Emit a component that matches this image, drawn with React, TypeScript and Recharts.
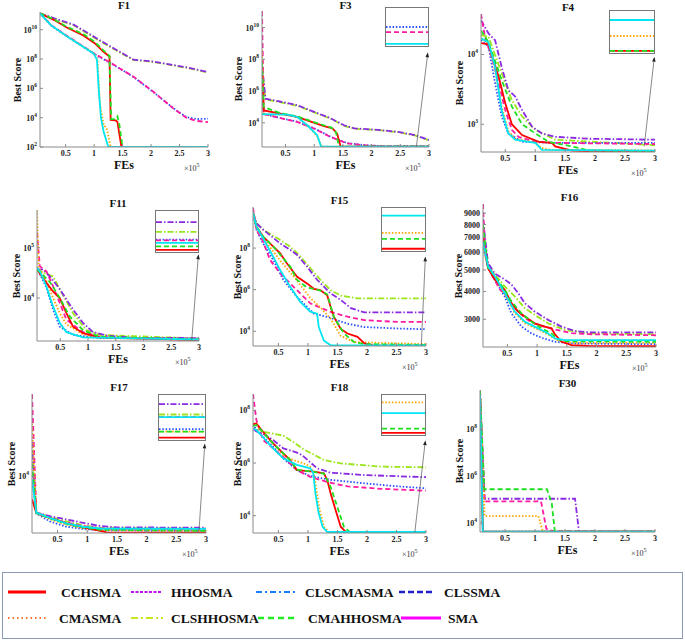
import React from 'react';
import { LineChart, Line, XAxis, YAxis, ReferenceLine } from 'recharts';

type Pt = [number, number];

const SERIF = '"Liberation Serif", "Times New Roman", serif';
const AXIS = '#8a8a8a';

const SERIES = ['CCHSMA', 'CMASMA', 'HHOSMA', 'CLSHHOSMA', 'CLSCMASMA', 'CLSSMA', 'CMAHHOSMA', 'SMA'];
const DRAW_ORDER = ['CLSHHOSMA', 'HHOSMA', 'CLSSMA', 'SMA', 'CMASMA', 'CCHSMA', 'CMAHHOSMA', 'CLSCMASMA'];
const X_TICKS = [0.5, 1, 1.5, 2, 2.5, 3];

// ---------- F1 ----------
const F1_Y_TICKS = [1e2, 1e4, 1e6, 1e8, 1e10];
const F1_DATA: Record<string, Pt[]> = {
  HHOSMA: [[0.05, 1.3e11], [0.3, 6e10], [0.64, 2.2e10], [0.9, 5.6e9], [1.11, 1.8e9], [1.4, 4e8], [1.69, 9e7], [2.0, 7e7], [2.27, 4.7e7], [2.6, 2.8e7], [3, 1.3e7]],
  CLSHHOSMA: [[0.05, 1.2e11], [0.3, 5.5e10], [0.64, 2e10], [0.9, 5e9], [1.11, 1.6e9], [1.4, 3.6e8], [1.69, 8.5e7], [2.0, 6.6e7], [2.27, 4.4e7], [2.6, 2.6e7], [3, 1.2e7]],
  CCHSMA: [[0.05, 1.3e11], [0.3, 4.5e10], [0.52, 1.4e10], [0.81, 4e9], [1.01, 1.2e9], [1.16, 3.2e8], [1.27, 1.5e8], [1.29, 7e3], [1.38, 6.5e3], [1.41, 5e3], [1.48, 1e2], [3, 1e2]],
  CMAHHOSMA: [[0.05, 1.3e11], [0.3, 5e10], [0.52, 1.6e10], [0.81, 5e9], [1.01, 1.5e9], [1.16, 4e8], [1.27, 1.6e8], [1.3, 8e3], [1.38, 8e3], [1.41, 1.2e4], [1.44, 4e3], [1.5, 1e2], [3, 1e2]],
  SMA: [[0.05, 1.3e11], [0.25, 2e10], [0.52, 3.9e9], [0.99, 2.5e8], [1.28, 5.8e7], [1.69, 6.3e6], [2.04, 5.9e5], [2.39, 4.3e4], [2.62, 1e4], [2.8, 6e3], [3, 5e3]],
  CLSSMA: [[0.05, 1.3e11], [0.25, 1.8e10], [0.52, 3.6e9], [0.99, 2.3e8], [1.28, 5.5e7], [1.69, 6e6], [2.04, 5.5e5], [2.39, 4.5e4], [2.62, 1.1e4], [2.8, 8e3], [3, 8.5e3]],
  CLSCMASMA: [[0.05, 1.3e11], [0.25, 1.9e10], [0.52, 3.5e9], [0.99, 2.4e8], [1.05, 9e7], [1.08, 1e6], [1.12, 1e4], [1.17, 1e3], [1.25, 1e2], [3, 1e2]],
  CMASMA: [[0.05, 1.3e11], [0.25, 1.9e10], [0.52, 3.6e9], [0.99, 2.6e8], [1.06, 9e7], [1.1, 1e5], [1.17, 3e3], [1.22, 2e3], [1.29, 1e2], [3, 1e2]],
};

// ---------- F3 ----------
const F3_Y_TICKS = [1e4, 1e6, 1e8, 1e10];
const F3_DATA: Record<string, Pt[]> = {
  HHOSMA: [[0.09, 5e7], [0.15, 3.3e5], [0.4, 2.2e5], [0.7, 1.3e5], [1.0, 4.9e4], [1.29, 1.9e4], [1.52, 7e3], [1.7, 4.5e3], [2.1, 3.6e3], [2.46, 2.7e3], [2.75, 1.7e3], [3, 830]],
  CLSHHOSMA: [[0.09, 3e7], [0.15, 3e5], [0.4, 2e5], [0.7, 1.2e5], [1.0, 4.5e4], [1.29, 1.8e4], [1.52, 6.5e3], [1.7, 4.3e3], [2.1, 3.5e3], [2.46, 2.6e3], [2.75, 1.6e3], [3, 800]],
  CCHSMA: [[0.09, 1e7], [0.12, 6e4], [0.41, 3.8e4], [0.7, 2.4e4], [0.94, 1.2e4], [1.17, 6.2e3], [1.32, 4.4e3], [1.4, 2.1e3], [1.46, 310], [3, 310]],
  CMAHHOSMA: [[0.09, 6e7], [0.12, 1e5], [0.41, 4e4], [0.7, 2.6e4], [0.94, 1.3e4], [1.17, 7e3], [1.3, 5e3], [1.38, 2.5e3], [1.43, 310], [3, 310]],
  CLSCMASMA: [[0.09, 3.5e4], [0.53, 3.3e4], [0.7, 2.4e4], [0.88, 7e3], [1.05, 1.7e3], [1.12, 310], [3, 310]],
  CMASMA: [[0.09, 4e8], [0.12, 3.4e4], [0.53, 3.2e4], [0.7, 2.3e4], [0.88, 6.5e3], [1.05, 1.5e3], [1.13, 310], [3, 310]],
  CLSSMA: [[0.09, 1e6], [0.12, 3.5e4], [0.41, 2e4], [0.7, 1.2e4], [1.0, 4.5e3], [1.29, 1.3e3], [1.58, 520], [1.87, 400], [2.2, 340], [3, 330]],
  SMA: [[0.09, 1.1e11], [0.12, 3.5e4], [0.41, 2e4], [0.7, 1.15e4], [1.0, 4.3e3], [1.29, 1.25e3], [1.58, 500], [1.87, 390], [2.2, 335], [3, 325]],
};
const F3_INSET: [string, number][] = [['CLSSMA', 0.5], ['SMA', 0.36], ['CLSCMASMA', 0.03]];

// ---------- F4 ----------
const F4_Y_TICKS = [1e3, 1e4];
const F4_DATA: Record<string, Pt[]> = {
  SMA: [[0.095, 3.8e4], [0.16, 1.8e4], [0.27, 9.3e3], [0.39, 3.9e3], [0.5, 1.6e3], [0.61, 830], [0.72, 660], [1.0, 560], [1.335, 540], [3, 520]],
  HHOSMA: [[0.095, 3.1e4], [0.22, 2e4], [0.33, 1.6e4], [0.44, 6.6e3], [0.55, 3.1e3], [0.665, 2.5e3], [0.78, 1.6e3], [0.945, 930], [1.11, 740], [1.335, 660], [1.9, 620], [3, 600]],
  CLSHHOSMA: [[0.095, 1.9e4], [0.22, 1.8e4], [0.44, 5.4e3], [0.61, 2.2e3], [0.78, 1.3e3], [1.0, 830], [1.335, 600], [3, 500]],
  CMAHHOSMA: [[0.095, 2.2e4], [0.22, 1.5e4], [0.44, 4.3e3], [0.61, 1.8e3], [0.78, 1e3], [1.0, 740], [1.22, 560], [1.615, 480], [1.9, 420], [3, 410]],
  CCHSMA: [[0.095, 1.45e4], [0.22, 1.4e4], [0.39, 4.8e3], [0.5, 2e3], [0.61, 1e3], [0.78, 700], [1.06, 560], [1.28, 540], [1.335, 480], [1.615, 420], [1.9, 410], [3, 410]],
  CLSCMASMA: [[0.095, 1.7e4], [0.22, 1.5e4], [0.33, 6.6e3], [0.44, 1.6e3], [0.55, 740], [0.665, 600], [1.0, 540], [1.06, 480], [1.11, 430], [3, 418]],
  CLSSMA: [[0.095, 1.6e4], [0.22, 1.3e4], [0.33, 3.9e3], [0.44, 1.3e3], [0.55, 740], [0.78, 560], [1.335, 540], [3, 540]],
  CMASMA: [[0.095, 1.7e4], [0.22, 1.45e4], [0.33, 6e3], [0.44, 1.8e3], [0.55, 800], [0.665, 620], [1.0, 550], [1.1, 460], [1.25, 430], [3, 422]],
};
const F4_INSET: [string, number][] = [['CLSCMASMA', 0.8], ['CMASMA', 0.4], ['CCHSMA', 0.03], ['CMAHHOSMA', 0.03]];

// ---------- F11 ----------
const F11_Y_TICKS = [1e4, 1e5];
const F11_DATA: Record<string, Pt[]> = {
  CMASMA: [[0.08, 5.6e5], [0.11, 4e4], [0.25, 2.2e4], [0.37, 1e4], [0.49, 5e3], [0.61, 3e3], [0.91, 1.9e3], [1.21, 1.6e3], [3, 1.5e3]],
  SMA: [[0.08, 2e5], [0.13, 4.3e4], [0.25, 3.4e4], [0.37, 1.7e4], [0.49, 8e3], [0.61, 3.7e3], [0.91, 2.1e3], [1.21, 1.7e3], [1.51, 1.6e3], [3, 1.55e3]],
  HHOSMA: [[0.08, 3.7e4], [0.19, 3.7e4], [0.31, 2.7e4], [0.49, 1.5e4], [0.73, 5.9e3], [0.91, 3.2e3], [1.09, 2.1e3], [1.33, 1.8e3], [1.815, 1.62e3], [3, 1.6e3]],
  CLSHHOSMA: [[0.08, 3.7e4], [0.25, 3e4], [0.37, 2.7e4], [0.49, 1.5e4], [0.73, 5e3], [0.97, 2.3e3], [1.21, 1.85e3], [3, 1.57e3]],
  CMAHHOSMA: [[0.08, 3.7e4], [0.31, 2.1e4], [0.49, 1e4], [0.67, 4.3e3], [0.91, 2.3e3], [1.21, 1.7e3], [3, 1.5e3]],
  CCHSMA: [[0.08, 3.7e4], [0.25, 2e4], [0.37, 1.35e4], [0.49, 1e4], [0.61, 5e3], [0.73, 2.7e3], [0.91, 2e3], [1.21, 1.65e3], [3, 1.45e3]],
  CLSCMASMA: [[0.08, 4e4], [0.13, 3.4e4], [0.25, 1.7e4], [0.37, 6.8e3], [0.49, 3.2e3], [0.61, 2.1e3], [0.91, 1.65e3], [3, 1.5e3]],
  CLSSMA: [[0.08, 4e4], [0.25, 1.6e4], [0.37, 5.9e3], [0.49, 2.7e3], [0.73, 1.85e3], [1.21, 1.6e3], [3, 1.55e3]],
};
const F11_INSET: [string, number][] = [['HHOSMA', 0.74], ['CLSHHOSMA', 0.49], ['CLSSMA', 0.29], ['SMA', 0.27], ['CLSCMASMA', 0.21], ['CMAHHOSMA', 0.12], ['CCHSMA', 0.03]];

// ---------- F15 ----------
const F15_Y_TICKS = [1e4, 1e6, 1e8];
const F15_DATA: Record<string, Pt[]> = {
  SMA: [[0.07, 8.7e9], [0.127, 7.8e8], [0.24, 2.1e8], [0.356, 2.8e7], [0.527, 6.2e6], [0.7, 2e6], [0.87, 6.6e5], [1.04, 2.2e5], [1.384, 8.5e4], [1.67, 5e4], [1.956, 3.4e4], [2.527, 2.8e4], [3, 2.8e4]],
  HHOSMA: [[0.07, 5e9], [0.127, 1.6e9], [0.24, 7.8e8], [0.527, 1.7e8], [0.7, 8.3e7], [0.813, 4.8e7], [0.984, 1.3e7], [1.156, 3e6], [1.384, 6.6e5], [1.556, 3.2e5], [1.727, 1.3e5], [1.956, 8e4], [3, 8e4]],
  CLSHHOSMA: [[0.07, 5e9], [0.127, 1.6e9], [0.24, 7.8e8], [0.527, 2.5e8], [0.7, 1.2e8], [0.87, 4e7], [1.04, 1.1e7], [1.21, 3e6], [1.384, 9.5e5], [1.556, 5.2e5], [1.84, 3.8e5], [3, 3.8e5]],
  CCHSMA: [[0.07, 5e9], [0.127, 1.1e9], [0.24, 3.6e8], [0.41, 1.2e8], [0.527, 5.8e7], [0.64, 1.9e7], [0.813, 4.3e6], [0.984, 2e6], [1.1, 1.1e6], [1.21, 9.5e5], [1.327, 5.3e5], [1.384, 1.5e5], [1.44, 4.9e4], [1.556, 1.3e4], [1.67, 7.8e3], [1.84, 5.4e3], [1.956, 2.6e3], [2.1, 2.1e3], [3, 2.05e3]],
  CMAHHOSMA: [[0.07, 5e9], [0.127, 1.1e9], [0.24, 3.6e8], [0.41, 1.2e8], [0.527, 5e7], [0.7, 1.3e7], [0.813, 3e6], [0.984, 1.3e6], [1.21, 9e5], [1.327, 6e5], [1.44, 4.9e4], [1.61, 7.8e3], [1.784, 3e3], [1.956, 2.4e3], [3, 2.2e3]],
  CMASMA: [[0.07, 5e9], [0.127, 1e9], [0.24, 3e8], [0.527, 2.6e7], [0.813, 2.8e6], [1.04, 4e5], [1.21, 1.4e5], [1.384, 4e4], [1.556, 6e3], [1.784, 3e3], [3, 2.4e3]],
  CLSCMASMA: [[0.07, 5e9], [0.127, 1.1e9], [0.24, 3e8], [0.41, 4e7], [0.527, 9e6], [0.7, 1.4e6], [0.87, 2.6e5], [1.04, 8.7e4], [1.156, 7e4], [1.184, 1.6e4], [1.27, 3.6e3], [1.384, 2.1e3], [3, 2.1e3]],
  CLSSMA: [[0.07, 5e9], [0.127, 7.8e8], [0.24, 1.7e8], [0.41, 2.8e7], [0.584, 3e6], [0.813, 4.6e5], [1.1, 7e4], [1.327, 4.9e4], [1.67, 2.3e4], [1.956, 1.6e4], [2.527, 1.35e4], [3, 1.25e4]],
};
const F15_INSET: [string, number][] = [['CLSCMASMA', 0.84], ['CMASMA', 0.42], ['CMAHHOSMA', 0.27], ['CCHSMA', 0.03]];

// ---------- F16 ----------
const F16_Y_TICKS = [3000, 4000, 5000, 6000, 7000, 8000, 9000];
const F16_DATA: Record<string, Pt[]> = {
  SMA: [[0.09, 9900], [0.118, 6400], [0.174, 5100], [0.287, 4500], [0.37, 4100], [0.455, 3900], [0.568, 3500], [0.68, 3250], [0.792, 3050], [0.905, 2900], [1.073, 2800], [1.298, 2700], [1.579, 2600], [1.86, 2570], [3, 2540]],
  HHOSMA: [[0.09, 8470], [0.174, 5380], [0.287, 4820], [0.455, 4530], [0.568, 4300], [0.68, 3940], [0.792, 3545], [0.96, 3250], [1.186, 2980], [1.41, 2780], [1.635, 2655], [1.86, 2620], [3, 2620]],
  CLSHHOSMA: [[0.09, 6500], [0.174, 5200], [0.287, 4770], [0.455, 4220], [0.624, 3800], [0.792, 3365], [0.96, 3140], [1.186, 2875], [1.466, 2685], [1.86, 2590], [3, 2570]],
  CMAHHOSMA: [[0.09, 8000], [0.174, 5110], [0.287, 4690], [0.455, 4070], [0.568, 3610], [0.736, 3190], [0.905, 2925], [1.073, 2730], [1.242, 2590], [1.354, 2435], [1.466, 2390], [3, 2375]],
  CCHSMA: [[0.09, 7000], [0.174, 5110], [0.287, 4530], [0.455, 4070], [0.568, 3545], [0.68, 3250], [0.792, 3085], [0.96, 2875], [1.13, 2780], [1.242, 2730], [1.298, 2570], [1.41, 2375], [1.579, 2295], [1.86, 2275], [3, 2270]],
  CLSCMASMA: [[0.09, 6700], [0.174, 5200], [0.287, 4690], [0.455, 3940], [0.624, 3250], [0.792, 2925], [1.017, 2730], [1.186, 2590], [1.298, 2460], [1.466, 2415], [3, 2415]],
  CLSSMA: [[0.09, 6500], [0.174, 5110], [0.287, 4530], [0.455, 3800], [0.568, 3190], [0.736, 2780], [0.905, 2590], [1.073, 2475], [1.298, 2375], [1.579, 2335], [3, 2315]],
  CMASMA: [[0.09, 6400], [0.174, 5100], [0.287, 4600], [0.455, 3900], [0.624, 3200], [0.792, 2880], [1.017, 2700], [1.186, 2560], [1.354, 2400], [1.6, 2350], [3, 2350]],
};

// ---------- F17 ----------
const F17_Y_TICKS = [1e4];
const F17_DATA: Record<string, Pt[]> = {
  SMA: [[0.07, 9e4], [0.143, 3800], [0.37, 3300], [0.65, 2900], [0.93, 2650], [1.22, 2500], [1.5, 2450], [3, 2450]],
  HHOSMA: [[0.07, 2.5e4], [0.143, 3800], [0.37, 3450], [0.65, 3160], [0.93, 2890], [1.22, 2650], [1.5, 2560], [3, 2530]],
  CLSHHOSMA: [[0.07, 2e4], [0.143, 3800], [0.37, 3400], [0.65, 3000], [0.93, 2700], [1.22, 2520], [3, 2470]],
  CMAHHOSMA: [[0.07, 1.4e4], [0.143, 3750], [0.37, 3250], [0.65, 2800], [0.93, 2550], [1.22, 2400], [3, 2330]],
  CMASMA: [[0.07, 4.1e4], [0.143, 3750], [0.37, 3200], [0.65, 2750], [0.93, 2500], [1.22, 2380], [3, 2330]],
  CLSCMASMA: [[0.07, 9.2e3], [0.143, 3800], [0.37, 3300], [0.65, 2850], [0.93, 2600], [1.22, 2480], [3, 2450]],
  CLSSMA: [[0.07, 1e4], [0.143, 3700], [0.37, 3000], [0.65, 2600], [0.93, 2450], [1.22, 2360], [3, 2340]],
  CCHSMA: [[0.07, 5.4e3], [0.143, 3750], [0.37, 3300], [0.65, 2850], [0.93, 2550], [1.2, 2350], [1.33, 2230], [3, 2220]],
};
const F17_INSET: [string, number][] = [['HHOSMA', 0.81], ['CLSHHOSMA', 0.57], ['SMA', 0.51], ['CLSCMASMA', 0.51], ['CLSSMA', 0.23], ['CMASMA', 0.17], ['CMAHHOSMA', 0.17], ['CCHSMA', 0.03]];

// ---------- F18 ----------
const F18_Y_TICKS = [1e4, 1e6, 1e8];
const F18_DATA: Record<string, Pt[]> = {
  SMA: [[0.07, 4.2e8], [0.127, 4.3e7], [0.24, 7.5e6], [0.41, 3.6e6], [0.584, 1.7e6], [0.813, 5.4e5], [1.04, 3e5], [1.327, 1.9e5], [1.67, 1.3e5], [2.24, 1.05e5], [3, 8.9e4]],
  HHOSMA: [[0.07, 2e7], [0.127, 1.6e7], [0.24, 1.3e7], [0.41, 7.5e6], [0.584, 3.6e6], [0.813, 2.5e6], [0.9, 2e6], [1.013, 1.2e6], [1.156, 6.3e5], [1.384, 4.3e5], [1.956, 3.5e5], [3, 2.9e5]],
  CLSHHOSMA: [[0.07, 2e7], [0.24, 1.55e7], [0.41, 1.3e7], [0.584, 1.1e7], [0.756, 6.2e6], [0.927, 3.3e6], [1.1, 2.1e6], [1.27, 1.3e6], [1.556, 9.7e5], [2.24, 7.3e5], [3, 6.9e5]],
  CLSSMA: [[0.07, 3e7], [0.127, 1.8e7], [0.24, 1e7], [0.41, 4.2e6], [0.584, 1.5e6], [0.813, 5.4e5], [1.04, 3.2e5], [1.384, 2.3e5], [1.956, 1.7e5], [2.527, 1.3e5], [3, 1.1e5]],
  CCHSMA: [[0.07, 3e7], [0.127, 3.2e7], [0.24, 1.55e7], [0.41, 5.6e6], [0.527, 3.1e6], [0.7, 1.3e6], [0.813, 5.4e5], [1.1, 4.7e5], [1.27, 4.1e5], [1.327, 2.3e5], [1.384, 7.1e4], [1.47, 1.6e4], [1.556, 3.8e3], [1.64, 2.45e3], [1.75, 2.3e3], [3, 2.3e3]],
  CMAHHOSMA: [[0.07, 2.5e7], [0.127, 2.8e7], [0.24, 1.5e7], [0.41, 5.6e6], [0.527, 3.1e6], [0.7, 1.3e6], [0.813, 5.6e5], [1.1, 4.6e5], [1.27, 4e5], [1.384, 1.26e5], [1.5, 2.1e4], [1.61, 3.8e3], [1.7, 2.45e3], [3, 2.35e3]],
  CMASMA: [[0.07, 3e7], [0.127, 2.8e7], [0.41, 5.6e6], [0.584, 2e6], [0.756, 1.3e6], [0.927, 9.7e5], [1.04, 7.3e5], [1.1, 4.1e5], [1.145, 9.4e4], [1.2, 1.6e4], [1.27, 3.8e3], [1.356, 2.4e3], [3, 2.45e3]],
  CLSCMASMA: [[0.07, 2e7], [0.127, 1.8e7], [0.41, 3.6e6], [0.584, 1.5e6], [0.813, 8.5e5], [1.04, 6.3e5], [1.09, 4.2e5], [1.127, 7.1e4], [1.184, 1.2e4], [1.25, 3.8e3], [1.327, 2.4e3], [3, 2.4e3]],
};
const F18_INSET: [string, number][] = [['CMASMA', 0.83], ['CLSCMASMA', 0.55], ['CMAHHOSMA', 0.14], ['CCHSMA', 0.03]];

// ---------- F30 ----------
const F30_Y_TICKS = [1e4, 1e6, 1e8];
const F30_DATA: Record<string, Pt[]> = {
  CMAHHOSMA: [[0.083, 4.5e9], [0.155, 2.8e5], [1.2, 2.8e5], [1.28, 6.7e4], [1.33, 4.4e3], [3, 4.4e3]],
  HHOSMA: [[0.083, 4.5e9], [0.16, 1.1e5], [1.667, 1.1e5], [1.733, 4.4e3], [3, 4.4e3]],
  SMA: [[0.083, 4.7e9], [0.16, 8.5e4], [1.1, 8.5e4], [1.19, 5.7e3], [1.3, 4.6e3], [3, 4.4e3]],
  CMASMA: [[0.083, 4e9], [0.16, 2e4], [1.055, 2e4], [1.13, 4.4e3], [3, 4.4e3]],
  CCHSMA: [[0.083, 4e9], [0.13, 4.4e3], [3, 4.4e3]],
  CLSCMASMA: [[0.083, 3e9], [0.13, 4.4e3], [3, 4.4e3]],
  CLSSMA: [[0.083, 2e9], [0.13, 4.4e3], [3, 4.4e3]],
  CLSHHOSMA: [[0.083, 3.5e9], [0.13, 4.4e3], [3, 4.4e3]],
};

// ---------- styles ----------
type Sty = { color: string; dash?: string; width: number };
const PLOT_STYLE: Record<string, Sty> = {
  CCHSMA: { color: '#ff0000', width: 1.8 },
  CMASMA: { color: '#ffa500', dash: '1.5 1.8', width: 1.8 },
  HHOSMA: { color: '#8a2be2', dash: '6 2 1.5 2', width: 1.8 },
  CLSHHOSMA: { color: '#9be61a', dash: '6 2 1.5 2', width: 1.8 },
  CLSCMASMA: { color: '#00e5f0', width: 1.8 },
  CLSSMA: { color: '#2b50ff', dash: '1.5 1.8', width: 1.8 },
  CMAHHOSMA: { color: '#1fe01f', dash: '5 3', width: 1.8 },
  SMA: { color: '#ff1aa0', dash: '5 3', width: 1.8 },
};
const LEGEND_STYLE: Record<string, Sty> = {
  CCHSMA: { color: '#ff0000', width: 3 },
  CMASMA: { color: '#ff7030', dash: '1.5 3', width: 2 },
  HHOSMA: { color: '#c010f0', dash: '3 1.5', width: 2 },
  CLSHHOSMA: { color: '#c8e61e', dash: '7 3 2 3', width: 2 },
  CLSCMASMA: { color: '#1a7fff', dash: '6 3 2 3', width: 2 },
  CLSSMA: { color: '#2020cc', dash: '6 3', width: 2.5 },
  CMAHHOSMA: { color: '#22ee22', dash: '6 4', width: 2.5 },
  SMA: { color: '#ff00ff', width: 3 },
};
// legend layout: [series, swatchX0, swatchX1, textX, row]
const LEGEND_LAYOUT: [string, number, number, number, number][] = [
  ['CCHSMA', 5, 43, 58, 0], ['HHOSMA', 128, 158, 168, 0], ['CLSCMASMA', 253, 293, 302, 0], ['CLSSMA', 396, 431, 441, 0],
  ['CMASMA', 5, 43, 56, 1], ['CLSHHOSMA', 128, 160, 168, 1], ['CMAHHOSMA', 255, 293, 305, 1], ['SMA', 398, 438, 445, 1],
];

type PanelCfg = {
  title: string;
  data: Record<string, Pt[]>;
  xMin: number;
  yDomain: [number, number];
  yTicks: number[];
  pow: boolean;
  plot: [number, number, number, number];
  labelX: number;
  inset?: { box: [number, number, number, number]; levels: [string, number][] };
  arrow?: [Pt, Pt];
};

const PANELS: PanelCfg[] = [
  { title: 'F1', data: F1_DATA, xMin: 0.05, yDomain: [1e2, 1.6e11], yTicks: F1_Y_TICKS, pow: true, plot: [40, 12, 208, 147], labelX: 18 },
  { title: 'F3', data: F3_DATA, xMin: 0.09, yDomain: [300, 1.1e11], yTicks: F3_Y_TICKS, pow: true, plot: [262, 11, 429, 147], labelX: 239,
    inset: { box: [385, 7, 429, 47], levels: F3_INSET }, arrow: [[2.78, 300], [2.98, 2.8e8]] },
  { title: 'F4', data: F4_DATA, xMin: 0.095, yDomain: [400, 38000], yTicks: F4_Y_TICKS, pow: true, plot: [481, 14, 655, 152], labelX: 460,
    inset: { box: [609, 10, 655, 54], levels: F4_INSET }, arrow: [[2.82, 480], [2.99, 9300]] },
  { title: 'F11', data: F11_DATA, xMin: 0.08, yDomain: [1400, 5.6e5], yTicks: F11_Y_TICKS, pow: true, plot: [37, 210, 199, 341], labelX: 17,
    inset: { box: [155, 210, 199, 253], levels: F11_INSET }, arrow: [[2.87, 1480], [2.99, 7.4e4]] },
  { title: 'F15', data: F15_DATA, xMin: 0.07, yDomain: [1950, 9.5e9], yTicks: F15_Y_TICKS, pow: true, plot: [253, 207, 426, 346], labelX: 238,
    inset: { box: [381, 207, 426, 252], levels: F15_INSET }, arrow: [[2.92, 1950], [2.99, 4e7]] },
  { title: 'F16', data: F16_DATA, xMin: 0.09, yDomain: [2250, 9900], yTicks: F16_Y_TICKS, pow: false, plot: [483, 204, 656, 347], labelX: 459 },
  { title: 'F17', data: F17_DATA, xMin: 0.07, yDomain: [2200, 9e4], yTicks: F17_Y_TICKS, pow: true, plot: [32, 394, 206, 533], labelX: 12,
    inset: { box: [158, 394, 206, 441], levels: F17_INSET }, arrow: [[2.88, 2220], [2.98, 2.4e4]] },
  { title: 'F18', data: F18_DATA, xMin: 0.07, yDomain: [2200, 4.2e8], yTicks: F18_Y_TICKS, pow: true, plot: [253, 394, 426, 533], labelX: 238,
    inset: { box: [381, 394, 426, 436], levels: F18_INSET }, arrow: [[2.81, 2300], [2.99, 7.4e6]] },
  { title: 'F30', data: F30_DATA, xMin: 0.083, yDomain: [4200, 4.8e9], yTicks: F30_Y_TICKS, pow: true, plot: [480, 390, 655, 532], labelX: 460 },
];

const PowTick = (props: any) => {
  const { x, y, payload } = props;
  const e = Math.round(Math.log10(payload.value));
  return (
    <text x={x} y={y} dy={3} textAnchor="end" fontSize={8} fontWeight="bold" fontFamily={SERIF} fill="#222">
      10<tspan dy={-4} fontSize={5.5}>{e}</tspan>
    </text>
  );
};
const PlainTick = (props: any) => {
  const { x, y, payload } = props;
  return (
    <text x={x} y={y} dy={3} textAnchor="end" fontSize={8} fontWeight="bold" fontFamily={SERIF} fill="#222">
      {payload.value}
    </text>
  );
};

const Arrow = (p: any) => {
  const { x1, y1, x2, y2 } = p;
  const ang = Math.atan2(y2 - y1, x2 - x1);
  const L = 5, W = 1.8;
  const bx = x2 - L * Math.cos(ang), by = y2 - L * Math.sin(ang);
  const px = -Math.sin(ang) * W, py = Math.cos(ang) * W;
  return (
    <g>
      <line x1={x1} y1={y1} x2={bx} y2={by} stroke="#555" strokeWidth={0.7} />
      <polygon points={`${x2},${y2} ${bx + px},${by + py} ${bx - px},${by - py}`} fill="#222" />
    </g>
  );
};

function Inset({ box, levels }: { box: [number, number, number, number]; levels: [string, number][] }) {
  const [l, t, r, b] = box;
  const w = r - l, h = b - t;
  return (
    <div style={{ position: 'absolute', left: l, top: t, width: w, height: h, border: '1px solid #777', background: '#fff', boxSizing: 'border-box' }}>
      <LineChart width={w - 2} height={h - 2} margin={{ top: 1, right: 0, bottom: 1, left: 0 }}>
        <XAxis dataKey="x" type="number" domain={[0, 1]} hide />
        <YAxis type="number" domain={[0, 1]} hide />
        {levels.map(([name, v]) => {
          const s = PLOT_STYLE[name];
          return (
            <Line key={name} data={[{ x: 0, y: v }, { x: 1, y: v }]} dataKey="y" stroke={s.color} strokeWidth={s.width}
              strokeDasharray={s.dash} dot={false} isAnimationActive={false} />
          );
        })}
      </LineChart>
    </div>
  );
}

function Panel({ cfg }: { cfg: PanelCfg }) {
  const [x0, y0, x1, y1] = cfg.plot;
  const PL = 40, PT = 4, PR = 4, PB = 30;
  const w = x1 - x0 + PL + PR, h = y1 - y0 + PT + PB;
  const txt: React.CSSProperties = { position: 'absolute', fontFamily: SERIF, fontWeight: 'bold', color: '#111', whiteSpace: 'nowrap' };
  return (
    <>
      <div style={{ position: 'absolute', left: x0 - PL, top: y0 - PT, width: w, height: h }}>
        <LineChart width={w} height={h} margin={{ top: PT, right: PR, bottom: 0, left: 0 }}>
          <XAxis dataKey="x" type="number" domain={[cfg.xMin, 3]} ticks={X_TICKS} allowDataOverflow height={PB}
            tickSize={-3} tickMargin={6} stroke={AXIS} interval={0}
            tick={{ fontSize: 8, fontWeight: 'bold', fontFamily: SERIF, fill: '#222' }} />
          <XAxis xAxisId="t" orientation="top" type="number" domain={[cfg.xMin, 3]} ticks={X_TICKS} allowDataOverflow height={0}
            tickSize={-3} tick={false} stroke={AXIS} />
          <YAxis type="number" scale="log" domain={cfg.yDomain} ticks={cfg.yTicks} allowDataOverflow width={PL}
            tickSize={-3} tickMargin={6} stroke={AXIS} interval={0} tick={cfg.pow ? <PowTick /> : <PlainTick />} />
          <YAxis yAxisId="r" orientation="right" type="number" scale="log" domain={cfg.yDomain} ticks={cfg.yTicks} allowDataOverflow width={0}
            tickSize={-3} tick={false} stroke={AXIS} />
          {DRAW_ORDER.map((name) => {
            const s = PLOT_STYLE[name];
            return (
              <Line key={name} name={name} data={cfg.data[name].map(([x, y]) => ({ x, y }))} dataKey="y" stroke={s.color}
                strokeWidth={s.width} strokeDasharray={s.dash} dot={false} isAnimationActive={false} />
            );
          })}
          {cfg.arrow && (
            <ReferenceLine segment={[{ x: cfg.arrow[0][0], y: cfg.arrow[0][1] }, { x: cfg.arrow[1][0], y: cfg.arrow[1][1] }]}
              ifOverflow="visible" shape={Arrow} />
          )}
        </LineChart>
      </div>
      {cfg.inset && <Inset box={cfg.inset.box} levels={cfg.inset.levels} />}
      <div style={{ ...txt, left: x0, width: x1 - x0, top: Math.max(0, y0 - 12), textAlign: 'center', fontSize: 11, lineHeight: '11px' }}>{cfg.title}</div>
      <div style={{ ...txt, left: x0, width: x1 - x0, top: y1 + 11, textAlign: 'center', fontSize: 12, lineHeight: '14px' }}>FEs</div>
      <div style={{ ...txt, left: x1 - 24, top: y1 + 13, fontSize: 8, lineHeight: '11px', fontWeight: 'normal', color: '#333' }}>
        ×10<sup style={{ fontSize: 6 }}>5</sup>
      </div>
      <div style={{ ...txt, left: cfg.labelX - 40, width: 80, top: (y0 + y1) / 2 - 6, textAlign: 'center', fontSize: 10, lineHeight: '12px', transform: 'rotate(-90deg)' }}>
        Best Score
      </div>
    </>
  );
}

function Legend() {
  return (
    <div style={{ position: 'absolute', left: 2, top: 572, width: 681, height: 67, border: '1px solid #8a9ab5', boxSizing: 'border-box', background: '#fff' }}>
      <svg width={679} height={65}>
        {LEGEND_LAYOUT.map(([name, a, b, tx, row]) => {
          const s = LEGEND_STYLE[name];
          const yy = row === 0 ? 19 : 45;
          return (
            <g key={name}>
              <line x1={a} x2={b} y1={yy} y2={yy} stroke={s.color} strokeWidth={s.width} strokeDasharray={s.dash} />
              <text x={tx} y={yy + 5} fontSize={13.5} fontWeight="bold" fontFamily={SERIF} fill="#111">{name}</text>
            </g>
          );
        })}
      </svg>
    </div>
  );
}

export default function App() {
  return (
    <div style={{ position: 'relative', width: 685, height: 640, background: '#fff', overflow: 'hidden' }}>
      <style>{'body{margin:0;background:#fff}'}</style>
      {PANELS.map((p) => <Panel key={p.title} cfg={p} />)}
      <Legend />
    </div>
  );
}
